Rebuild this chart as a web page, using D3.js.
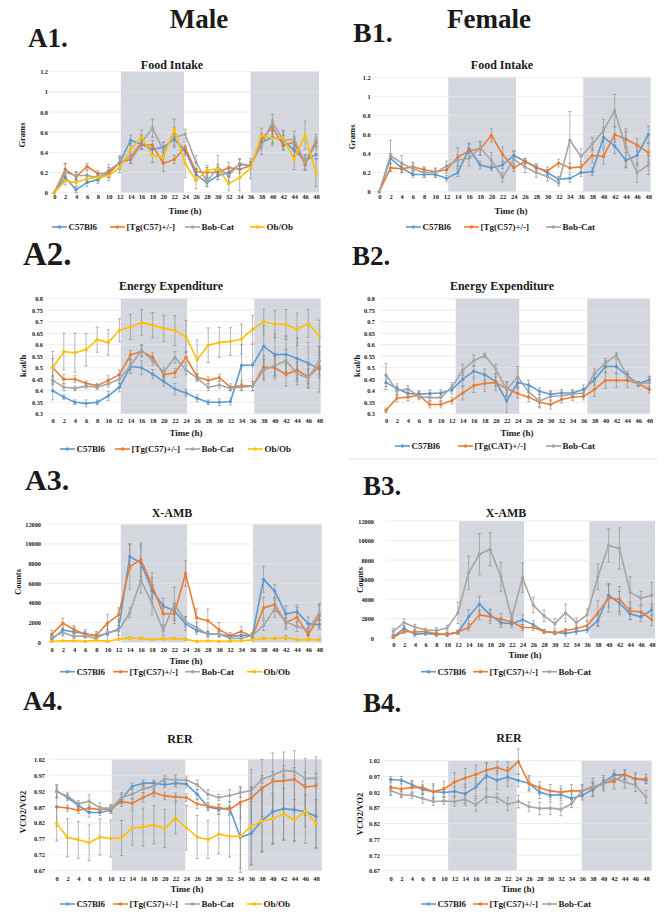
<!DOCTYPE html>
<html>
<head>
<meta charset="utf-8">
<script src="https://cdn.jsdelivr.net/npm/d3@7"></script>
<style>
  body { margin: 0; background: #fff; }
  svg text { font-family: "Liberation Serif", "DejaVu Serif", serif; font-weight: bold; fill: #1a1a1a; }
</style>
</head>
<body>
<svg id="fig" width="671" height="919"></svg>
<script>
/* ===== Data ===== */
const hours = [0,2,4,6,8,10,12,14,16,18,20,22,24,26,28,30,32,34,36,38,40,42,44,46,48];

const maleGroups = ["C57Bl6", "[Tg(C57)+/-]", "Bob-Cat", "Ob/Ob"];
const femaleGroups = ["C57Bl6", "[Tg(C57)+/-]", "Bob-Cat"];
const femaleGroupsCat = ["C57Bl6", "[Tg(CAT)+/-]", "Bob-Cat"];

// A1 food intake, male (grams)
const a1C57 = [0,0.15,0.03,0.1,0.13,0.2,0.3,0.52,0.48,0.43,0.45,0.53,0.42,0.18,0.1,0.17,0.2,0.28,0.27,0.5,0.55,0.52,0.42,0.32,0.38];
const a1Tg  = [0,0.23,0.16,0.26,0.19,0.19,0.3,0.33,0.48,0.47,0.29,0.33,0.45,0.21,0.2,0.2,0.25,0.23,0.27,0.53,0.65,0.47,0.5,0.28,0.5];
const a1Bob = [0,0.2,0.17,0.17,0.15,0.22,0.3,0.36,0.5,0.64,0.42,0.55,0.58,0.3,0.11,0.25,0.17,0.29,0.27,0.47,0.7,0.52,0.53,0.3,0.52];
const a1Ob  = [0,0.12,0.1,0.14,0.15,0.17,0.25,0.43,0.55,0.37,0.35,0.63,0.29,0.12,0.22,0.24,0.09,0.15,0.24,0.57,0.54,0.54,0.33,0.57,0.2];
const a1C57Err = [0,0.04,0.03,0.04,0.04,0.05,0.05,0.05,0.05,0.05,0.05,0.06,0.05,0.05,0.04,0.04,0.05,0.05,0.03,0.06,0.06,0.05,0.06,0.05,0.05];
const a1TgErr  = [0,0.06,0.04,0.03,0.03,0.04,0.05,0.04,0.05,0.05,0.08,0.04,0.06,0.03,0.05,0.04,0.05,0.04,0.03,0.06,0.07,0.05,0.06,0.05,0.05];
const a1BobErr = [0,0.09,0.04,0.05,0.04,0.06,0.07,0.07,0.07,0.09,0.08,0.1,0.05,0.07,0.05,0.12,0.06,0.05,0.04,0.09,0.08,0.09,0.08,0.08,0.06];
const a1ObErr  = [0,0.04,0.04,0.04,0.03,0.05,0.05,0.06,0.07,0.07,0.05,0.1,0.14,0.08,0.05,0.04,0.07,0.13,0.1,0.07,0.07,0.08,0.1,0.14,0.14];

// A2 energy expenditure, male (kcal/h)
const a2C57 = [0.4,0.372,0.35,0.345,0.35,0.377,0.415,0.505,0.5,0.472,0.44,0.407,0.39,0.367,0.35,0.35,0.353,0.51,0.512,0.593,0.557,0.558,0.54,0.52,0.494];
const a2Tg  = [0.5,0.45,0.45,0.432,0.422,0.445,0.47,0.555,0.572,0.545,0.47,0.478,0.545,0.46,0.445,0.457,0.415,0.422,0.42,0.502,0.5,0.47,0.49,0.46,0.505];
const a2Bob = [0.445,0.415,0.41,0.42,0.415,0.43,0.45,0.51,0.575,0.53,0.48,0.545,0.49,0.455,0.415,0.425,0.41,0.415,0.42,0.49,0.51,0.53,0.475,0.455,0.53];
const a2Ob  = [0.5,0.57,0.565,0.578,0.622,0.61,0.663,0.677,0.697,0.685,0.671,0.662,0.635,0.535,0.598,0.61,0.614,0.625,0.667,0.7,0.69,0.688,0.667,0.692,0.637];
const a2C57Err = [0.04,0.01,0.01,0.015,0.01,0.02,0.02,0.03,0.03,0.02,0.02,0.025,0.015,0.015,0.01,0.015,0.015,0.09,0.09,0.09,0.09,0.08,0.09,0.09,0.1];
const a2TgErr  = [0.04,0.02,0.015,0.01,0.01,0.02,0.02,0.02,0.025,0.02,0.02,0.02,0.025,0.015,0.015,0.015,0.015,0.02,0.02,0.05,0.05,0.05,0.05,0.05,0.05];
const a2BobErr = [0.02,0.015,0.01,0.01,0.01,0.015,0.02,0.02,0.025,0.02,0.02,0.025,0.02,0.015,0.015,0.015,0.01,0.015,0.02,0.045,0.05,0.05,0.05,0.04,0.06];
const a2ObErr  = [0.07,0.08,0.085,0.07,0.055,0.055,0.05,0.055,0.055,0.055,0.057,0.065,0.07,0.085,0.075,0.065,0.06,0.065,0.06,0.055,0.06,0.065,0.07,0.06,0.07];

// A3 ambulatory activity, male (counts)
const a3C57 = [300,1250,1050,900,650,900,1350,8700,8100,5300,3700,3200,1900,1200,850,850,600,700,700,6400,5200,2900,3100,1900,1800];
const a3Tg  = [800,1950,1300,800,700,1950,2800,7700,8400,5800,2900,2900,7000,2500,2200,1300,700,1100,600,3500,3850,2000,2550,750,2700];
const a3Bob = [500,1000,600,650,400,1000,1200,3000,6300,4000,1200,3900,2100,1500,800,850,400,400,700,1700,3400,2100,1600,1300,3000];
const a3Ob  = [100,150,150,100,200,100,300,450,400,300,350,400,300,100,150,100,100,150,250,400,400,500,250,300,250];
const a3C57Err = [300,600,500,400,300,800,1000,1300,1800,1300,800,800,700,400,300,300,200,300,300,1300,700,800,700,700,500];
const a3TgErr  = [400,500,400,300,400,900,700,2300,1700,1300,1100,1000,1300,900,1200,700,300,500,300,1100,700,500,1000,400,1200];
const a3BobErr = [300,300,200,200,200,300,500,500,1300,1200,500,1700,500,500,300,300,200,200,200,500,900,800,500,600,800];
const a3ObErr  = [50,50,50,50,50,50,100,100,100,100,100,100,100,50,50,50,50,50,100,100,100,200,100,100,100];

// A4 RER, male (VCO2/VO2)
const a4C57 = [0.92,0.9,0.875,0.853,0.853,0.86,0.895,0.935,0.945,0.945,0.94,0.945,0.942,0.91,0.87,0.863,0.867,0.775,0.787,0.828,0.855,0.865,0.861,0.856,0.84];
const a4Tg  = [0.87,0.867,0.86,0.866,0.862,0.865,0.887,0.882,0.9,0.915,0.905,0.902,0.9,0.88,0.873,0.868,0.862,0.885,0.898,0.93,0.95,0.953,0.957,0.933,0.937];
const a4Bob = [0.918,0.905,0.88,0.888,0.868,0.866,0.9,0.91,0.927,0.935,0.958,0.955,0.955,0.94,0.91,0.9,0.906,0.915,0.922,0.957,0.97,0.985,0.982,0.96,0.96];
const a4Ob  = [0.818,0.774,0.767,0.758,0.776,0.771,0.773,0.805,0.807,0.814,0.803,0.835,0.805,0.776,0.768,0.785,0.778,0.778,0.81,0.826,0.833,0.849,0.829,0.858,0.818];
const a4C57Err = [0.02,0.01,0.01,0.015,0.01,0.01,0.015,0.01,0.01,0.01,0.01,0.012,0.012,0.015,0.012,0.015,0.02,0.11,0.1,0.1,0.1,0.1,0.1,0.1,0.1];
const a4TgErr  = [0.06,0.01,0.01,0.01,0.01,0.01,0.015,0.015,0.015,0.012,0.012,0.012,0.012,0.015,0.012,0.012,0.012,0.05,0.09,0.09,0.09,0.09,0.09,0.09,0.09];
const a4BobErr = [0.02,0.01,0.01,0.02,0.015,0.012,0.015,0.015,0.012,0.015,0.01,0.015,0.012,0.015,0.015,0.01,0.02,0.015,0.012,0.012,0.012,0.015,0.012,0.02,0.015];
const a4ObErr  = [0.055,0.06,0.058,0.056,0.057,0.058,0.055,0.055,0.06,0.06,0.06,0.05,0.07,0.068,0.06,0.062,0.065,0.1,0.12,0.095,0.08,0.08,0.065,0.05,0.075];

// B1 food intake, female
const b1C57 = [0,0.35,0.25,0.18,0.18,0.18,0.14,0.2,0.45,0.28,0.25,0.28,0.38,0.32,0.26,0.2,0.13,0.14,0.2,0.21,0.57,0.48,0.33,0.38,0.6];
const b1Tg  = [0,0.25,0.24,0.26,0.23,0.21,0.23,0.36,0.43,0.45,0.59,0.39,0.25,0.32,0.25,0.22,0.3,0.25,0.26,0.38,0.37,0.6,0.55,0.49,0.41];
const b1Bob = [0,0.38,0.3,0.24,0.2,0.2,0.27,0.33,0.35,0.46,0.33,0.15,0.34,0.26,0.2,0.16,0.09,0.54,0.37,0.5,0.64,0.85,0.46,0.2,0.28];
const b1C57Err = [0,0.05,0.05,0.03,0.03,0.03,0.03,0.04,0.05,0.04,0.03,0.04,0.05,0.03,0.03,0.03,0.03,0.04,0.04,0.04,0.1,0.08,0.08,0.1,0.09];
const b1TgErr  = [0,0.04,0.04,0.04,0.03,0.03,0.04,0.1,0.08,0.07,0.07,0.08,0.04,0.03,0.04,0.04,0.04,0.05,0.06,0.08,0.08,0.08,0.08,0.07,0.1];
const b1BobErr = [0,0.16,0.08,0.07,0.05,0.05,0.05,0.06,0.08,0.07,0.08,0.05,0.08,0.06,0.05,0.05,0.03,0.3,0.08,0.07,0.12,0.17,0.2,0.1,0.1];

// B2 energy expenditure, female
const b2C57 = [0.435,0.41,0.388,0.385,0.388,0.39,0.405,0.45,0.485,0.47,0.44,0.355,0.435,0.425,0.398,0.385,0.39,0.39,0.405,0.448,0.505,0.505,0.465,0.43,0.448];
const b2Tg  = [0.315,0.368,0.372,0.38,0.34,0.34,0.357,0.39,0.422,0.432,0.435,0.41,0.388,0.372,0.35,0.34,0.362,0.373,0.375,0.405,0.445,0.445,0.445,0.43,0.405];
const b2Bob = [0.468,0.4,0.408,0.375,0.37,0.37,0.415,0.49,0.53,0.553,0.495,0.405,0.46,0.395,0.355,0.375,0.378,0.385,0.39,0.475,0.52,0.555,0.46,0.43,0.435];
const b2C57Err = [0.03,0.02,0.015,0.015,0.015,0.015,0.02,0.03,0.025,0.025,0.02,0.05,0.02,0.02,0.015,0.015,0.015,0.015,0.02,0.025,0.025,0.03,0.02,0.01,0.015];
const b2TgErr  = [0.01,0.015,0.015,0.015,0.015,0.015,0.015,0.03,0.03,0.035,0.035,0.03,0.02,0.02,0.02,0.02,0.015,0.015,0.015,0.03,0.035,0.03,0.03,0.01,0.015];
const b2BobErr = [0.05,0.02,0.015,0.015,0.015,0.015,0.02,0.025,0.025,0.01,0.02,0.03,0.045,0.02,0.03,0.02,0.015,0.015,0.02,0.02,0.02,0.01,0.015,0.01,0.025];

// B3 ambulatory activity, female
const b3C57 = [200,1000,400,500,400,400,600,2200,3500,2400,1600,1500,1900,1400,700,600,500,700,850,1800,4400,3600,2500,2200,2900];
const b3Tg  = [100,700,650,700,450,400,650,1100,2400,2200,1950,1700,1100,1100,700,550,800,1000,1300,2600,4100,4000,2800,2700,1900];
const b3Bob = [700,1600,1150,850,800,1050,2600,6700,8600,9100,6300,2100,6200,3400,2300,1500,2600,1600,2400,6300,9500,9200,4700,4100,4400];
const b3C57Err = [200,300,200,200,200,200,200,700,800,600,500,400,500,400,200,200,300,300,300,600,1200,1200,600,500,600];
const b3TgErr  = [100,200,200,200,200,200,200,300,500,700,600,400,300,300,200,200,200,300,400,1300,1400,1300,900,600,600];
const b3BobErr = [300,400,300,200,300,300,1100,1700,2100,1700,1500,500,1500,800,600,500,900,500,600,1300,1700,2100,1600,700,1300];

// B4 RER, female
const b4C57 = [0.96,0.958,0.944,0.928,0.922,0.919,0.922,0.915,0.936,0.972,0.958,0.968,0.957,0.948,0.92,0.91,0.912,0.9,0.91,0.928,0.952,0.975,0.975,0.962,0.958];
const b4Tg  = [0.935,0.93,0.935,0.935,0.922,0.93,0.952,0.965,0.976,0.99,0.998,0.987,1.017,0.948,0.933,0.924,0.92,0.924,0.924,0.935,0.948,0.955,0.977,0.962,0.962];
const b4Bob = [0.925,0.912,0.91,0.9,0.89,0.892,0.89,0.897,0.88,0.906,0.902,0.882,0.89,0.874,0.868,0.869,0.865,0.883,0.925,0.938,0.945,0.965,0.952,0.942,0.905];
const b4C57Err = [0.01,0.012,0.012,0.015,0.02,0.015,0.015,0.03,0.03,0.04,0.03,0.03,0.02,0.02,0.02,0.015,0.02,0.015,0.015,0.02,0.015,0.015,0.015,0.015,0.01];
const b4TgErr  = [0.025,0.025,0.02,0.02,0.025,0.025,0.03,0.03,0.03,0.025,0.02,0.03,0.04,0.025,0.02,0.02,0.02,0.02,0.02,0.03,0.025,0.025,0.015,0.02,0.015];
const b4BobErr = [0.015,0.01,0.01,0.015,0.012,0.012,0.015,0.02,0.02,0.02,0.015,0.02,0.02,0.015,0.02,0.02,0.02,0.012,0.015,0.015,0.015,0.015,0.02,0.02,0.02];

const foodTicks = [0,0.2,0.4,0.6,0.8,1,1.2];
const eeTicks = [0.3,0.35,0.4,0.45,0.5,0.55,0.6,0.65,0.7,0.75,0.8];
const ambTicks = [0,2000,4000,6000,8000,10000,12000];
const rerTicks = [0.67,0.72,0.77,0.82,0.87,0.92,0.97,1.02];

/* ===== Style ===== */
const seriesColors = ["#5b9bd5", "#ed7d31", "#a5a5a5", "#ffc000"];
const nightFill = "#d4d7de";
const gridColor = "#e2e4e8";
const errColor = "#858585";

/* ===== Panels (layout in pixels) ===== */
const panels = [
  { tag: "A1.", tagX: 28, tagY: 47, tagSize: 27, title: "Food Intake", titleX: 172, titleY: 65, yTitle: "Grams", yTitleX: 22, yTitleY: 135,
    L: 47, R: 319, x0: 54.3, x48: 316, top: 71.7, bottom: 192.7, ticks: foodTicks, tickRight: 48, xLabY: 197, timeX: 185, timeY: 211,
    nights: [[12.2, 23.8], [36, 99]], fmt: d3.format("~g"),
    series: [[a1C57, a1C57Err], [a1Tg, a1TgErr], [a1Bob, a1BobErr], [a1Ob, a1ObErr]], groups: maleGroups, legY: 227, legX: [52, 110, 185, 250] },
  { tag: "A2.", tagX: 23, tagY: 265, tagSize: 33, title: "Energy Expenditure", titleX: 171, titleY: 286, yTitle: "kcal/h", yTitleX: 23, yTitleY: 366,
    L: 47, R: 320.7, x0: 52.7, x48: 319.3, top: 298.7, bottom: 413.7, ticks: eeTicks, tickRight: 43, xLabY: 420.7, timeX: 186, timeY: 433,
    nights: [[12.25, 24.2], [36.3, 99]], fmt: d3.format("~g"),
    series: [[a2C57, a2C57Err], [a2Tg, a2TgErr], [a2Bob, a2BobErr], [a2Ob, a2ObErr]], groups: maleGroups, legY: 449, legX: [60, 115, 185, 248] },
  { tag: "A3.", tagX: 25, tagY: 490, tagSize: 30, title: "X-AMB", titleX: 172, titleY: 513, yTitle: "Counts", yTitleX: 18, yTitleY: 582,
    L: 46, R: 321.7, x0: 51.7, x48: 319.3, top: 524.3, bottom: 642.3, ticks: ambTicks, tickRight: 41, xLabY: 650, timeX: 186, timeY: 661,
    nights: [[12.4, 24.3], [36.1, 99]], fmt: d3.format("d"),
    series: [[a3C57, a3C57Err], [a3Tg, a3TgErr], [a3Bob, a3BobErr], [a3Ob, a3ObErr]], groups: maleGroups, legY: 671.7, legX: [60, 113, 185, 247] },
  { tag: "A4.", tagX: 23, tagY: 710, tagSize: 27, title: "RER", titleX: 180, titleY: 739, yTitle: "VCO2/VO2", yTitleX: 23, yTitleY: 812,
    L: 50, R: 321.7, x0: 56.7, x48: 316, top: 759.3, bottom: 870.7, ticks: rerTicks, tickRight: 45, xLabY: 879, timeX: 187, timeY: 889,
    nights: [[10.2, 23.8], [35.4, 99]], fmt: d3.format(".2f"),
    series: [[a4C57, a4C57Err], [a4Tg, a4TgErr], [a4Bob, a4BobErr], [a4Ob, a4ObErr]], groups: maleGroups, legY: 904, legX: [60, 113, 185, 247] },
  { tag: "B1.", tagX: 353, tagY: 42, tagSize: 28, title: "Food Intake", titleX: 502, titleY: 65, yTitle: "Grams", yTitleX: 352, yTitleY: 137,
    L: 373, R: 650.7, x0: 379.3, x48: 648.3, top: 77.3, bottom: 191.7, ticks: foodTicks, tickRight: 370.7, xLabY: 197, timeX: 511, timeY: 211,
    nights: [[12.3, 24.4], [36.4, 99]], fmt: d3.format("~g"),
    series: [[b1C57, b1C57Err], [b1Tg, b1TgErr], [b1Bob, b1BobErr]], groups: femaleGroups, legY: 227, legX: [406, 464, 546] },
  { tag: "B2.", tagX: 352, tagY: 265, tagSize: 27, title: "Energy Expenditure", titleX: 502, titleY: 286, yTitle: "kcal/h", yTitleX: 357, yTitleY: 366,
    L: 380, R: 650, x0: 386, x48: 649.3, top: 298.7, bottom: 413.7, ticks: eeTicks, tickRight: 375, xLabY: 420.7, timeX: 517, timeY: 433,
    nights: [[12.7, 24.3], [36.7, 99]], fmt: d3.format("~g"),
    series: [[b2C57, b2C57Err], [b2Tg, b2TgErr], [b2Bob, b2BobErr]], groups: femaleGroupsCat, legY: 446, legX: [395, 458, 546] },
  { tag: "B3.", tagX: 363, tagY: 495, tagSize: 27, title: "X-AMB", titleX: 506, titleY: 513, yTitle: "Counts", yTitleX: 360, yTitleY: 580,
    L: 386, R: 655, x0: 393.3, x48: 651.7, top: 521, bottom: 638.3, ticks: ambTicks, tickRight: 374, xLabY: 645, timeX: 525, timeY: 655,
    nights: [[12.2, 24.3], [36.4, 99]], fmt: d3.format("d"),
    series: [[b3C57, b3C57Err], [b3Tg, b3TgErr], [b3Bob, b3BobErr]], groups: femaleGroups, legY: 671.7, legX: [421, 473, 542] },
  { tag: "B4.", tagX: 363, tagY: 712, tagSize: 27, title: "RER", titleX: 509, titleY: 738, yTitle: "VCO2/VO2", yTitleX: 360, yTitleY: 814,
    L: 384, R: 651.7, x0: 390.7, x48: 646, top: 760.7, bottom: 870.7, ticks: rerTicks, tickRight: 380, xLabY: 879, timeX: 518, timeY: 889,
    nights: [[10.8, 23.7], [35.9, 99]], fmt: d3.format(".2f"),
    series: [[b4C57, b4C57Err], [b4Tg, b4TgErr], [b4Bob, b4BobErr]], groups: femaleGroups, legY: 904, legX: [421, 473, 542] }
];

const svg = d3.select("#fig");

/* ===== Headers ===== */
svg.append("text").attr("x", 199).attr("y", 28).attr("text-anchor", "middle").attr("font-size", 27).text("Male");
svg.append("text").attr("x", 489).attr("y", 28).attr("text-anchor", "middle").attr("font-size", 27).text("Female");

// thin separator under the B2 legend
svg.append("line").attr("x1", 347).attr("x2", 658).attr("y1", 459).attr("y2", 459)
  .attr("stroke", "#e6e6e6").attr("stroke-width", 1);

/* ===== Panel ===== */
function drawPanel(p) {
  const g = svg.append("g");
  const x = d3.scaleLinear().domain([0, 48]).range([p.x0, p.x48]);
  const y = d3.scaleLinear().domain([p.ticks[0], p.ticks[p.ticks.length - 1]]).range([p.bottom, p.top]);

  g.append("text").attr("x", p.tagX).attr("y", p.tagY).attr("font-size", p.tagSize).text(p.tag);
  g.append("text").attr("x", p.titleX).attr("y", p.titleY).attr("dy", "0.35em")
    .attr("text-anchor", "middle").attr("font-size", 12).text(p.title);

  // night shading
  g.selectAll("rect.night").data(p.nights).join("rect")
    .attr("x", d => x(d[0]))
    .attr("width", d => Math.min(p.R, x(d[1])) - x(d[0]))
    .attr("y", p.top).attr("height", p.bottom - p.top)
    .attr("fill", nightFill);

  // gridlines
  g.selectAll("line.grid").data(p.ticks).join("line")
    .attr("x1", p.L).attr("x2", p.R)
    .attr("y1", d => y(d)).attr("y2", d => y(d))
    .attr("stroke", gridColor).attr("stroke-width", 0.7);

  // axes
  const ya = g.append("g").attr("transform", `translate(${p.tickRight},0)`)
    .call(d3.axisLeft(y).tickValues(p.ticks).tickSize(0).tickPadding(0).tickFormat(p.fmt));
  ya.select(".domain").remove();
  ya.selectAll("text").attr("font-size", 6.3).attr("font-family", null);

  const xa = g.append("g").attr("transform", `translate(0,${p.xLabY})`)
    .call(d3.axisBottom(x).tickValues(hours).tickSize(0).tickPadding(0).tickFormat(d3.format("d")));
  xa.select(".domain").remove();
  xa.selectAll("text").attr("dy", "0.35em").attr("font-size", 6.5).attr("font-family", null);

  g.append("text").attr("transform", `translate(${p.yTitleX},${p.yTitleY}) rotate(-90)`)
    .attr("dy", "0.35em").attr("text-anchor", "middle").attr("font-size", 8.5).text(p.yTitle);
  g.append("text").attr("x", p.timeX).attr("y", p.timeY).attr("dy", "0.35em")
    .attr("text-anchor", "middle").attr("font-size", 9).text("Time (h)");

  // series
  const line = d3.line().x((d, i) => x(hours[i])).y(d => y(d));
  p.series.forEach(([vals, errs], si) => {
    const col = seriesColors[si];
    const s = g.append("g");
    const pts = vals.map((v, i) => ({ h: hours[i], v, e: errs[i] }));
    s.selectAll("line.eb").data(pts.filter(d => d.e > 0)).join("line")
      .attr("x1", d => x(d.h)).attr("x2", d => x(d.h))
      .attr("y1", d => y(d.v - d.e)).attr("y2", d => y(d.v + d.e))
      .attr("stroke", errColor).attr("stroke-width", 0.6);
    ["-", "+"].forEach(sign => {
      s.selectAll("line.cap" + (sign === "-" ? "lo" : "hi")).data(pts.filter(d => d.e > 0)).join("line")
        .attr("x1", d => x(d.h) - 1.6).attr("x2", d => x(d.h) + 1.6)
        .attr("y1", d => y(sign === "-" ? d.v - d.e : d.v + d.e))
        .attr("y2", d => y(sign === "-" ? d.v - d.e : d.v + d.e))
        .attr("stroke", errColor).attr("stroke-width", 0.6);
    });
    s.append("path").datum(vals).attr("d", line)
      .attr("fill", "none").attr("stroke", col).attr("stroke-width", 1.6).attr("stroke-linejoin", "round");
    s.selectAll("circle").data(pts).join("circle")
      .attr("cx", d => x(d.h)).attr("cy", d => y(d.v)).attr("r", 1.7).attr("fill", col);
  });

  // legend
  p.groups.forEach((name, i) => {
    const lx = p.legX[i];
    const col = seriesColors[i];
    g.append("line").attr("x1", lx).attr("x2", lx + 15).attr("y1", p.legY).attr("y2", p.legY)
      .attr("stroke", col).attr("stroke-width", 1.6);
    g.append("circle").attr("cx", lx + 7.5).attr("cy", p.legY).attr("r", 1.8).attr("fill", col);
    g.append("text").attr("x", lx + 16.5).attr("y", p.legY).attr("dy", "0.35em")
      .attr("font-size", 9).text(name);
  });
}

panels.forEach(drawPanel);
</script>
</body>
</html>
